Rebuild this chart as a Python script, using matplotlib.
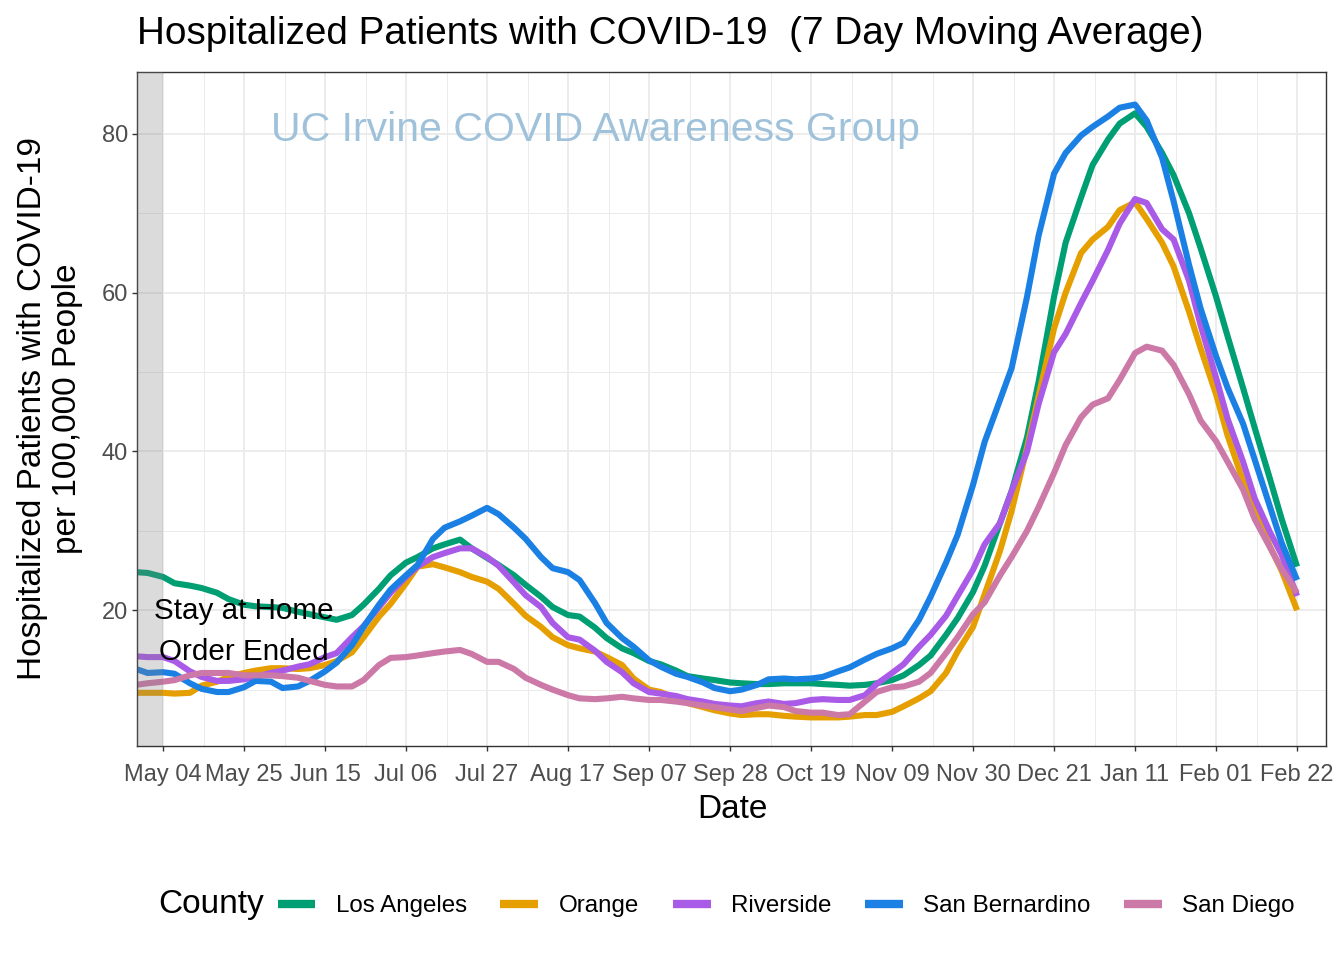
import numpy as np
import pandas as pd
import matplotlib
matplotlib.use('Agg')
import matplotlib.pyplot as plt
from matplotlib.lines import Line2D

plt.rcParams['font.family'] = ['Liberation Sans', 'DejaVu Sans']

# ---------------- data (readings twice a week: Mondays and Thursdays) ----------------
mondays = pd.date_range('2020-04-27', '2021-02-22', freq='7D')
thursdays = mondays[:-1] + pd.Timedelta(days=3)
dates = mondays.union(thursdays)

counties = ['Los Angeles', 'Orange', 'Riverside', 'San Bernardino', 'San Diego']
colors = ['#009E73', '#E69F00', '#A95AE6', '#1B80E4', '#CC79A7']

los_angeles = [24.8, 24.7, 24.2, 23.4, 23.1, 22.8, 22.2, 21.4, 20.7, 20.5, 20.4, 20.3, 19.8, 19.5,
               19.1, 18.8, 19.4, 20.7, 22.7, 24.4, 26.0, 26.7, 27.8, 28.3, 28.9, 27.8, 26.6, 25.7,
               24.4, 23.2, 21.7, 20.4, 19.4, 19.2, 17.8, 16.5, 15.2, 14.6, 13.6, 13.2, 12.4, 11.7,
               11.4, 11.2, 10.9, 10.8, 10.7, 10.7, 10.8, 10.8, 10.8, 10.7, 10.6, 10.5, 10.6, 10.8,
               11.2, 11.8, 13.1, 14.3, 16.9, 19.0, 22.3, 25.6, 31.0, 35.0, 41.8, 48.8, 59.5, 66.3,
               72.0, 76.1, 79.3, 81.3, 82.6, 80.9, 77.6, 74.8, 70.0, 65.6, 59.5, 54.5, 48.0, 43.0,
               36.5, 31.5, 25.5]
orange = [9.6, 9.6, 9.6, 9.5, 9.6, 10.5, 11.0, 11.6, 12.1, 12.4, 12.7, 12.7, 12.6, 12.7,
          13.1, 13.6, 14.7, 16.6, 19.2, 20.8, 23.4, 25.5, 25.8, 25.4, 24.8, 24.2, 23.6, 22.7,
          20.8, 19.3, 17.9, 16.6, 15.6, 15.2, 14.8, 14.1, 13.1, 11.4, 10.0, 9.7, 8.9, 8.3,
          7.8, 7.4, 7.0, 6.8, 6.9, 6.9, 6.7, 6.6, 6.5, 6.5, 6.5, 6.6, 6.8, 6.8,
          7.2, 7.9, 8.9, 9.8, 12.1, 14.8, 17.9, 22.0, 27.5, 32.5, 40.5, 47.0, 55.5, 60.0,
          65.0, 66.7, 68.3, 70.4, 71.4, 69.3, 66.3, 63.3, 57.6, 53.0, 47.2, 42.0, 36.3, 32.6,
          28.0, 25.0, 20.0]
riverside = [14.2, 14.1, 14.1, 13.6, 12.3, 11.6, 11.1, 11.1, 11.3, 11.6, 12.1, 12.4, 12.9, 13.2,
             14.1, 14.6, 16.6, 18.0, 20.4, 22.2, 24.2, 25.5, 26.7, 27.2, 27.8, 27.8, 26.7, 25.6,
             23.5, 21.9, 20.4, 18.4, 16.6, 16.3, 14.9, 13.5, 12.2, 10.8, 9.7, 9.5, 9.2, 8.8,
             8.5, 8.2, 8.0, 7.9, 8.3, 8.5, 8.2, 8.3, 8.7, 8.8, 8.7, 8.7, 9.3, 10.7,
             12.1, 13.2, 15.4, 16.9, 19.3, 21.8, 25.1, 28.3, 31.0, 35.0, 40.0, 46.0, 52.5, 54.8,
             58.7, 61.5, 65.4, 68.7, 71.8, 71.3, 68.0, 66.7, 61.5, 55.9, 49.3, 44.1, 38.7, 34.1,
             29.8, 27.0, 21.8]
san_bernardino = [12.6, 12.1, 12.2, 12.0, 10.8, 10.1, 9.7, 9.7, 10.3, 11.1, 11.0, 10.2, 10.4, 11.1,
                  12.3, 13.4, 15.6, 17.9, 20.7, 22.6, 24.4, 25.7, 29.0, 30.4, 31.2, 31.9, 32.9, 32.1,
                  30.4, 29.0, 26.7, 25.3, 24.8, 23.8, 20.9, 18.4, 16.5, 15.4, 13.7, 12.9, 12.0, 11.6,
                  10.9, 10.2, 9.8, 10.0, 10.6, 11.3, 11.4, 11.3, 11.4, 11.6, 12.3, 12.8, 13.8, 14.5,
                  15.2, 15.9, 18.8, 21.7, 26.0, 29.5, 35.8, 41.2, 46.5, 50.5, 59.5, 67.2, 75.0, 77.6,
                  79.8, 80.9, 82.2, 83.3, 83.7, 81.7, 77.0, 71.5, 63.5, 58.0, 52.0, 48.0, 43.5, 39.0,
                  33.0, 28.5, 23.8]
san_diego = [10.6, 10.8, 11.0, 11.2, 11.8, 12.1, 12.1, 12.1, 11.8, 11.8, 11.8, 11.7, 11.5, 11.1,
             10.6, 10.4, 10.4, 11.2, 13.1, 14.0, 14.1, 14.3, 14.6, 14.8, 15.0, 14.5, 13.5, 13.5,
             12.6, 11.5, 10.6, 10.0, 9.3, 8.9, 8.8, 8.9, 9.1, 8.9, 8.7, 8.7, 8.5, 8.3,
             8.0, 7.8, 7.5, 7.3, 7.7, 8.0, 7.8, 7.3, 7.1, 7.1, 6.8, 6.9, 8.5, 9.7,
             10.3, 10.4, 11.0, 12.1, 14.6, 16.6, 19.5, 21.0, 24.4, 26.7, 30.0, 33.0, 37.3, 40.8,
             44.3, 45.9, 46.7, 49.0, 52.4, 53.2, 52.7, 50.9, 47.2, 43.9, 41.3, 38.7, 35.2, 31.5,
             27.9, 25.2, 22.2]
series = [los_angeles, orange, riverside, san_bernardino, san_diego]

tick_dates = pd.date_range('2020-05-04', '2021-02-22', freq='21D')
y_major = [20, 40, 60, 80]
y_minor = [10, 30, 50, 70]
order_end = pd.Timestamp('2020-05-04')

# ---------------- figure ----------------
W, H = 1344, 960
fig = plt.figure(figsize=(W / 100, H / 100), dpi=100)
ax = fig.add_axes([137 / W, 1 - 746 / H, (1326 - 137) / W, (746 - 72) / H])

for vals, c in zip(series, colors):
    ax.plot(dates, vals, color=c, lw=4.4, solid_capstyle='butt', solid_joinstyle='round', zorder=2)

x0 = tick_dates[0] - pd.Timedelta(days=6.74)
x1 = tick_dates[-1] + pd.Timedelta(days=7.5)
ax.set_xlim(x0, x1)
ax.set_ylim(2.9, 87.8)

ax.axvspan(x0, order_end, color='grey', alpha=0.28, lw=0, zorder=3)

# ticks & grid
ax.set_xticks(tick_dates)
ax.set_xticklabels([d.strftime('%b %d') for d in tick_dates])
minor_dates = tick_dates[:-1] + pd.Timedelta(hours=252)
ax.set_xticks(minor_dates, minor=True)
ax.set_yticks(y_major)
ax.set_yticks(y_minor, minor=True)
ax.grid(which='major', color='#EBEBEB', lw=1.3, zorder=0)
ax.grid(which='minor', color='#EBEBEB', lw=0.7, zorder=0)
ax.set_axisbelow(True)
ax.tick_params(which='major', length=3.6, width=1.0, color='#333333', labelcolor='#4D4D4D',
               labelsize=17)
ax.tick_params(axis='x', which='major', pad=9.5)
ax.tick_params(axis='y', which='major', pad=3)
ax.tick_params(which='minor', length=0)
for s in ax.spines.values():
    s.set_color('#333333')
    s.set_linewidth(1.0)

# annotations
ax.text(pd.Timestamp('2020-08-24'), 80.5, 'UC Irvine COVID Awareness Group', color='#9FC2DA',
        fontsize=29.5, ha='center', va='center', zorder=1)
ax.text(pd.Timestamp('2020-05-25'), 17.3, 'Stay at Home\nOrder Ended', color='black',
        fontsize=21.3, ha='center', va='center', linespacing=1.6, zorder=5)

# titles
fig.text(137 / W, 1 - 34 / H, 'Hospitalized Patients with COVID-19  (7 Day Moving Average)',
         fontsize=27.9, ha='left', va='center')
fig.text(732 / W, 1 - 810 / H, 'Date', fontsize=24, ha='center', va='center')
fig.text(50 / W, 1 - 409 / H, 'Hospitalized Patients with COVID-19\nper 100,000 People',
         fontsize=24, rotation=90, ha='center', va='center', multialignment='center', linespacing=1.15)

# legend
fig.text(158 / W, 1 - 905 / H, 'County', fontsize=24, ha='left', va='center')
handles = [Line2D([0], [0], color=c, lw=6, solid_capstyle='butt') for c in colors]
fig.legend(handles, counties, loc='center', bbox_to_anchor=(786 / W, 1 - 906 / H), ncol=5,
           frameon=False, fontsize=17.4, handlelength=1.57, handletextpad=0.83, columnspacing=1.4)

fig.savefig('out.png', dpi=100)
